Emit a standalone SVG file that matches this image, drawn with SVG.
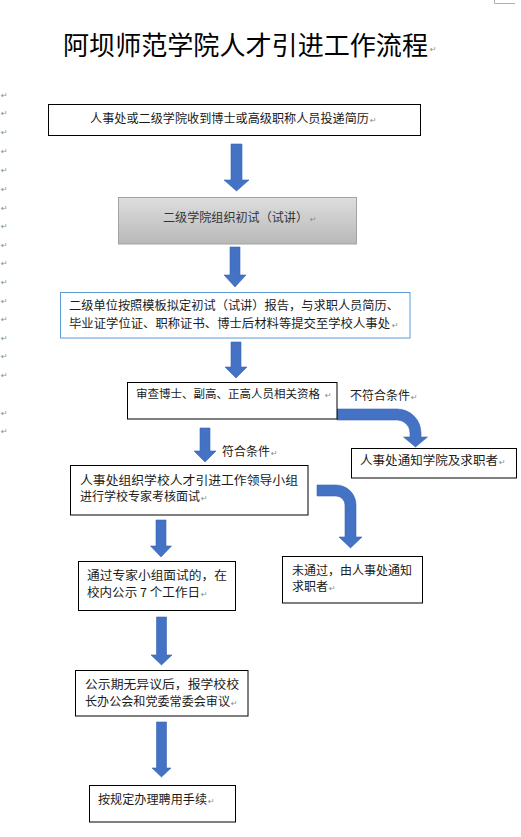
<svg xmlns="http://www.w3.org/2000/svg" width="521" height="837" viewBox="0 0 521 837">
<style>
text{font-family:"Noto Sans CJK SC","Liberation Sans",sans-serif;fill:#1a1a1a;font-size:12px}
.title{font-size:26px;fill:#000;font-weight:normal}
.rm{font-family:"DejaVu Sans",sans-serif;font-size:8px;fill:#8a8a8a}
.box{fill:#fff;stroke:#000;stroke-width:1}
.arr{fill:#4472c4;stroke:#3b65b3;stroke-width:0.6}
.lbl{fill:#222}
</style>
<defs>
<linearGradient id="gray" x1="0" y1="0" x2="0" y2="1">
<stop offset="0" stop-color="#dedede"/>
<stop offset="1" stop-color="#b8b8b8"/>
</linearGradient>
</defs>
<rect width="521" height="837" fill="#fff"/>
<path d="M494.5,0 V3.5 H515" fill="none" stroke="#b0b0b0" stroke-width="1"/>

<g id="title">
<text class="title" x="63" y="55" textLength="365" lengthAdjust="spacingAndGlyphs">阿坝师范学院人才引进工作流程</text>
<text class="rm" x="430" y="52">↵</text>
</g>

<g id="margin-marks">
<text class="rm" x="1" y="98">↵</text>
<text class="rm" x="1" y="116">↵</text>
<text class="rm" x="1" y="135">↵</text>
<text class="rm" x="1" y="154">↵</text>
<text class="rm" x="1" y="173">↵</text>
<text class="rm" x="1" y="192">↵</text>
<text class="rm" x="1" y="211">↵</text>
<text class="rm" x="1" y="229">↵</text>
<text class="rm" x="1" y="248">↵</text>
<text class="rm" x="1" y="266">↵</text>
<text class="rm" x="1" y="285">↵</text>
<text class="rm" x="1" y="304">↵</text>
<text class="rm" x="1" y="322">↵</text>
<text class="rm" x="1" y="341">↵</text>
<text class="rm" x="1" y="359">↵</text>
<text class="rm" x="1" y="378">↵</text>
<text class="rm" x="1" y="416">↵</text>
<text class="rm" x="1" y="434">↵</text>
</g>

<g id="connectors">
<path class="arr" d="M231,144 H242 V180 H249 L236.5,191 L224,180 H231 Z"/>
<path class="arr" d="M230,247 H240 V275 H246 L235,287 L224,275 H230 Z"/>
<path class="arr" d="M231,342 H241 V367 H247 L236,378 L225,367 H231 Z"/>
<path class="arr" d="M337,409 H397 A24,24 0 0 1 421,433 V437 H427.5 L415.5,447 L403.5,437 H410 V433 A13,13 0 0 0 397,420 H337 Z"/>
<path class="arr" d="M200,428 H210 V451 H216 L205,462 L194,451 H200 Z"/>
<path class="arr" d="M317,485 H336 A20,20 0 0 1 356,505 V537 H362 L350.5,548 L339,537 H345 V505 A9,9 0 0 0 336,496 H317 Z"/>
<path class="arr" d="M156,520 H166 V546 H171.5 L161,557 L150.5,546 H156 Z"/>
<path class="arr" d="M156.5,617 H166.5 V655 H172 L161.5,665 L151,655 H156.5 Z"/>
<path class="arr" d="M156.5,722 H166.5 V768 H171 L161.5,777 L152,768 H156.5 Z"/>
<text class="lbl" x="350" y="400" textLength="60" lengthAdjust="spacingAndGlyphs">不符合条件</text>
<text class="rm" x="411" y="400">↵</text>
<text class="lbl" x="222" y="456" textLength="48" lengthAdjust="spacingAndGlyphs">符合条件</text>
<text class="rm" x="271" y="456">↵</text>
</g>

<g id="node1">
<rect class="box" x="48.5" y="104.5" width="372" height="31"/>
<text x="90" y="123" textLength="279" lengthAdjust="spacingAndGlyphs">人事处或二级学院收到博士或高级职称人员投递简历</text>
<text class="rm" x="370" y="123">↵</text>
</g>

<g id="node2">
<rect x="118.5" y="197.5" width="238" height="46.5" fill="url(#gray)" stroke="#a3a3a3" stroke-width="1"/>
<text x="163" y="222" textLength="145" lengthAdjust="spacingAndGlyphs" style="fill:#333">二级学院组织初试（试讲）</text>
<text class="rm" x="310" y="222">↵</text>
</g>

<g id="node3">
<rect x="60.5" y="292.5" width="349.5" height="45.5" fill="#fff" stroke="#5b9bd5" stroke-width="1"/>
<text x="69" y="310" textLength="330" lengthAdjust="spacingAndGlyphs">二级单位按照模板拟定初试（试讲）报告，与求职人员简历、</text>
<text x="69" y="328" textLength="321" lengthAdjust="spacingAndGlyphs">毕业证学位证、职称证书、博士后材料等提交至学校人事处</text>
<text class="rm" x="392" y="328">↵</text>
</g>

<g id="node4">
<rect class="box" x="127.5" y="382.5" width="209.5" height="36.5"/>
<text x="136" y="398" textLength="184" lengthAdjust="spacingAndGlyphs" style="font-size:11.5px">审查博士、副高、正高人员相关资格</text>
<text class="rm" x="325" y="398">↵</text>
</g>

<g id="node5">
<rect class="box" x="351.5" y="448.5" width="165" height="29.5"/>
<text x="360" y="465" textLength="138" lengthAdjust="spacingAndGlyphs">人事处通知学院及求职者</text>
<text class="rm" x="499" y="465">↵</text>
</g>

<g id="node6">
<rect class="box" x="70.5" y="465.5" width="237.5" height="49.5"/>
<text x="80" y="485" textLength="218" lengthAdjust="spacingAndGlyphs">人事处组织学校人才引进工作领导小组</text>
<text x="80" y="501" textLength="120" lengthAdjust="spacingAndGlyphs">进行学校专家考核面试</text>
<text class="rm" x="201" y="501">↵</text>
</g>

<g id="node7">
<rect class="box" x="282.5" y="556.5" width="140" height="46.5"/>
<text x="292" y="575" textLength="120" lengthAdjust="spacingAndGlyphs">未通过，由人事处通知</text>
<text x="292" y="591" textLength="36" lengthAdjust="spacingAndGlyphs">求职者</text>
<text class="rm" x="329" y="591">↵</text>
</g>

<g id="node8">
<rect class="box" x="78.5" y="561.5" width="157" height="49"/>
<text x="87" y="580" textLength="140" lengthAdjust="spacingAndGlyphs">通过专家小组面试的，在</text>
<text x="87" y="597" textLength="113" lengthAdjust="spacingAndGlyphs">校内公示 7 个工作日</text>
<text class="rm" x="201" y="597">↵</text>
</g>

<g id="node9">
<rect class="box" x="75.5" y="670.5" width="172.5" height="45.5"/>
<text x="85" y="689" textLength="154" lengthAdjust="spacingAndGlyphs">公示期无异议后，报学校校</text>
<text x="85" y="706" textLength="145" lengthAdjust="spacingAndGlyphs">长办公会和党委常委会审议</text>
<text class="rm" x="231" y="706">↵</text>
</g>

<g id="node10">
<rect class="box" x="89.5" y="785.5" width="146" height="36.5"/>
<text x="98" y="804" textLength="109" lengthAdjust="spacingAndGlyphs">按规定办理聘用手续</text>
<text class="rm" x="208" y="804">↵</text>
</g>
</svg>
